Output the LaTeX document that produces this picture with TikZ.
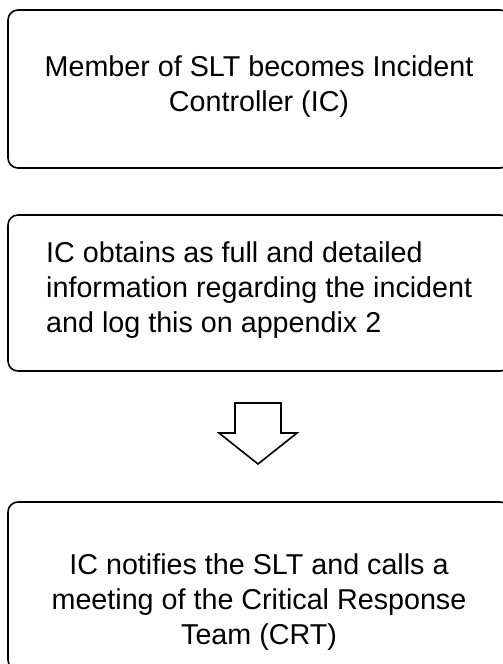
\documentclass[tikz,border=0pt]{standalone}
\usepackage{fontspec}
\setmainfont{Liberation Sans}
\usepackage{tikz}

\tikzset{
  stepbox/.style={draw,line width=1.6pt,rounded corners=10pt,minimum width=502pt,inner sep=0pt},
  steptext/.style={inner sep=0pt,font=\fontsize{28.7pt}{35pt}\selectfont},
  hollowarrow/.style={draw,line width=1.6pt,fill=white,line join=miter}
}

\begin{document}
\begin{tikzpicture}[x=1pt,y=-1pt]
\useasboundingbox (0,0) rectangle (503,664);
\clip (0,0) rectangle (503,664);
\node[stepbox,minimum height=158pt] (ICbox) at (259,89) {};
\node[steptext,align=center] (IC) at (259,87) {Member of SLT becomes Incident\\Controller (IC)};
\node[stepbox,minimum height=156pt] (INFObox) at (259,293) {};
\node[steptext,align=left,anchor=west] (INFO) at (46,290) {IC obtains as full and detailed\\information regarding the incident\\and log this on appendix 2};
\node[stepbox,minimum height=168pt] (CRTbox) at (259,586) {};
\node[steptext,align=center] (CRT) at (259,602) {IC notifies the SLT and calls a\\meeting of the Critical Response\\Team (CRT)};
\coordinate (flow) at (258,403);
\draw[hollowarrow,shift={(flow)}] (-23,0) -- (23,0) -- (23,30) -- (39,30) -- (0,61) -- (-39,30) -- (-23,30) -- cycle;
\end{tikzpicture}
\end{document}
